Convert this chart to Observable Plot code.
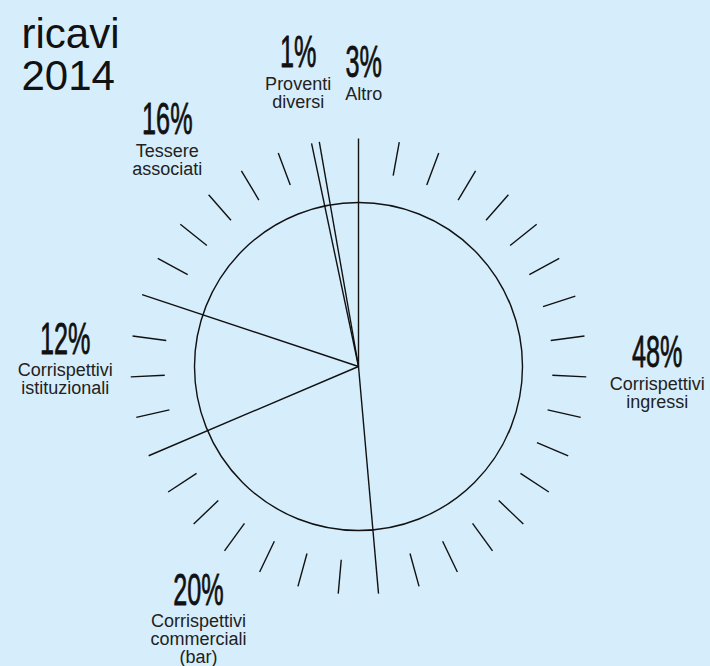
<!DOCTYPE html>
<html>
<head>
<meta charset="utf-8">
<script src="https://cdn.jsdelivr.net/npm/d3@7"></script>
<script src="https://cdn.jsdelivr.net/npm/@observablehq/plot@0.6"></script>
<style>
html, body { margin: 0; padding: 0; background: #d6eefc; }
#chart svg { display: block; }
</style>
</head>
<body>
<div id="chart"></div>
<script>
// ---- data ----
const title = "ricavi\n2014";
const categories = [
  "Corrispettivi ingressi",
  "Corrispettivi commerciali (bar)",
  "Corrispettivi istituzionali",
  "Tessere associati",
  "Proventi diversi",
  "Altro"
];
const values = [48.6, 20.0, 11.5, 16.6, 0.55, 2.75];
const pctLabels = ["48%", "20%", "12%", "16%", "1%", "3%"];
const subLabels = [
  "Corrispettivi\ningressi",
  "Corrispettivi\ncommerciali\n(bar)",
  "Corrispettivi\nistituzionali",
  "Tessere\nassociati",
  "Proventi\ndiversi",
  "Altro"
];
// decorative radial ticks, degrees clockwise from 12 o'clock
const tickAngles = [
  10.3, 20.6, 30.9, 41.1, 51.4, 61.7, 72.0, 82.3, 92.6, 102.9, 113.1, 123.4,
  133.7, 144.0, 154.3, 164.6, 185.1, 195.4, 205.7, 216.0, 226.3, 236.6,
  257.1, 267.4, 277.7, 298.3, 308.6, 318.9, 329.1, 339.4
];

// ---- layout ----
const W = 710, H = 666;
const CX = 358, CY = 366;
const R_CIRCLE = 164, R_DIVIDER = 228, R_TICK_IN = 194, R_TICK_OUT = 228;
const labelPlacement = [
  {angle: 90.1, r: 298.7},
  {angle: 213.9, r: 287},
  {angle: 272.5, r: 293.6},
  {angle: 320.6, r: 301.2},
  {angle: 348.6, r: 305.4},
  {angle: 1.05, r: 289.4}
];
const PCT_SCALE_X = 0.56;

const rad = (a) => (a * Math.PI) / 180;
const px = (r, a) => r * Math.sin(rad(a));
const py = (r, a) => r * Math.cos(rad(a));

const total = d3.sum(values);
let cum = 0;
const slices = categories.map((c, i) => {
  const a0 = (cum / total) * 360;
  cum += values[i];
  const a1 = (cum / total) * 360;
  return {category: c, value: values[i], a0, a1, pct: pctLabels[i], sub: subLabels[i], ...labelPlacement[i]};
});

const font = "'Liberation Sans', Arial, Helvetica, sans-serif";

const chart = Plot.plot({
  width: W,
  height: H,
  margin: 0,
  marginTop: 0, marginRight: 0, marginBottom: 0, marginLeft: 0,
  x: {domain: [-CX, W - CX], range: [0, W], axis: null},
  y: {domain: [-(H - CY), CY], range: [H, 0], axis: null},
  style: {background: "#d6eefc", fontFamily: font, color: "#111"},
  marks: [
    Plot.dot([{x: 0, y: 0}], {x: "x", y: "y", r: R_CIRCLE, fill: "none", stroke: "#111", strokeWidth: 1.4}),
    Plot.link(tickAngles, {
      x1: (a) => px(R_TICK_IN, a), y1: (a) => py(R_TICK_IN, a),
      x2: (a) => px(R_TICK_OUT, a), y2: (a) => py(R_TICK_OUT, a),
      stroke: "#111", strokeWidth: 1.4
    }),
    Plot.link(slices, {
      x1: () => 0, y1: () => 0,
      x2: (s) => px(R_DIVIDER, s.a0), y2: (s) => py(R_DIVIDER, s.a0),
      stroke: "#111", strokeWidth: 1.4
    }),
    Plot.text(slices, {
      x: (s) => px(s.r, s.angle), y: (s) => py(s.r, s.angle),
      text: "pct", fontSize: 45, fontWeight: "normal", fontFamily: font,
      stroke: "#111", strokeWidth: 0.8,
      lineAnchor: "bottom", textAnchor: "middle", fill: "#111"
    }),
    Plot.text(slices, {
      x: (s) => px(s.r, s.angle), y: (s) => py(s.r, s.angle),
      text: "sub", fontSize: 18, fontFamily: font, dy: 10, lineHeight: 1.0,
      lineAnchor: "top", textAnchor: "middle", fill: "#222"
    }),
    Plot.text([title], {
      text: (d) => d, frameAnchor: "top-left", dx: 21, dy: 18,
      fontSize: 42, lineHeight: 1.0, lineAnchor: "top", textAnchor: "start", fill: "#111"
    })
  ]
});

// condense the percentage figures horizontally
chart.querySelectorAll('g[aria-label="text"]').forEach((g) => {
  if (g.getAttribute("font-size") !== "45") return;
  g.querySelectorAll("text").forEach((t) => {
    const tr = t.getAttribute("transform");
    if (tr && /translate/.test(tr)) {
      t.setAttribute("transform", tr + ` scale(${PCT_SCALE_X},1)`);
    } else {
      const x = +t.getAttribute("x") || 0, y = +t.getAttribute("y") || 0;
      t.removeAttribute("x"); t.removeAttribute("y");
      t.setAttribute("transform", `translate(${x},${y}) scale(${PCT_SCALE_X},1)`);
    }
  });
});

document.getElementById("chart").appendChild(chart);
</script>
</body>
</html>
